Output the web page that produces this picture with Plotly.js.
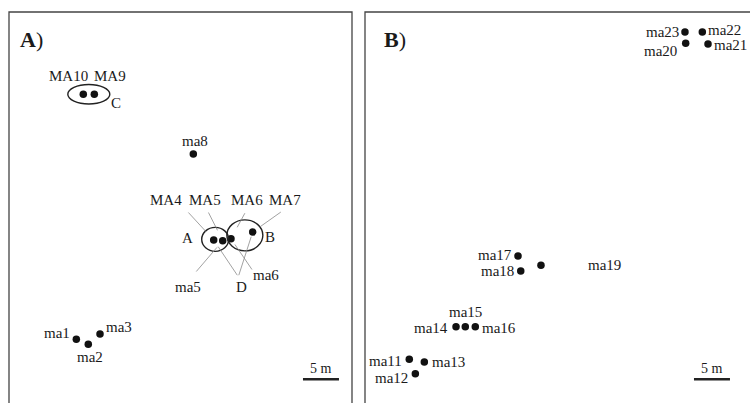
<!DOCTYPE html>
<html><head><meta charset="utf-8">
<script src="https://cdn.plot.ly/plotly-3.0.1.min.js"></script>
<style>html,body{margin:0;padding:0;background:#fff}#chart{width:750px;height:403px}</style>
</head><body><div id="chart"></div>
<script>
// ---- data (metres, origin at lower-left of each panel) ----
const namesA = ['ma1','ma2','ma3','MA4','MA5','MA6','MA7','ma8','MA9','MA10'];
const xA = [9.35, 11.01, 12.64, 28.43, 29.68, 30.83, 33.85, 25.60, 11.85, 10.32];
const yA = [8.85, 8.15, 9.58, 22.64, 22.54, 22.82, 23.75, 34.58, 42.88, 42.88];
const namesB = ['ma11','ma12','ma13','ma14','ma15','ma16','ma17','ma18','ma19','ma20','ma21','ma22','ma23'];
const xB = [6.15, 6.99, 8.24, 12.64, 13.93, 15.32, 21.25, 21.63, 24.44, 44.54, 47.64, 46.85, 44.44];
const yB = [6.07, 4.07, 5.69, 10.60, 10.60, 10.60, 20.42, 18.33, 19.13, 49.96, 49.86, 51.53, 51.53];
const groupNames = ['A','B','C'];
const groupMembers = [['MA4','MA5'],['MA6','MA7'],['MA10','MA9']];
const groupDLinks = ['MA4','MA7'];
const leaderLabels = ['MA4','MA5','MA6','MA7','ma5','ma6'];
const leaderTargets = ['MA4','MA5','MA6','MA7','MA5','MA6'];
const scaleLength = 5;
const scaleUnit = 'm';

// ---- style ----
const PX = 7.2; // pixels per metre
const FONT = "'Liberation Serif', 'Times New Roman', 'DejaVu Serif', serif";
const TXT = '#1a1a1a';
const W = 750, H = 403;
const dirLabelShift = { // [dx right, dy up] in px
  ma1:[-19.6,6], ma2:[1.7,-12.4], ma3:[19.3,6.7], ma8:[1.7,13.3], MA9:[15.4,18.3], MA10:[-15,18.3],
  ma11:[-23.5,-1.4], ma12:[-23.6,-4.6], ma13:[24.4,0], ma14:[-24.7,-1.6], ma15:[0,14.4], ma16:[23.7,-1.6],
  ma17:[-23.3,1], ma18:[-23.2,0], ma19:[63.3,0], ma20:[-24.9,-7.4], ma21:[22.5,-0.5], ma22:[21.7,1.5], ma23:[-22.8,0]
};
const leaderStyle = [ // label shift [dx,dy up], arrow tail ax, ay (screen), standoff
  {lab:[-47.7,40], ax:-26.7, ay:-29, so:11},
  {lab:[-17.7,40.7], ax:-15, ay:-29.7, so:11.6},
  {lab:[15.7,38.7], ax:14.7, ay:-27, so:13},
  {lab:[32,32], ax:29.6, ay:-21, so:9},
  {lab:[-34.7,-46], ax:-27.7, ay:32.3, so:8.7},
  {lab:[34.7,-36.3], ax:22, ay:32.3, so:7}
];
const groupStyle = {
  A:{off:[-3,1], rx:13.5, ry:12, lab:[-30.5,2]},
  B:{off:[3,0], rx:18, ry:15.5, lab:[28.2,-2]},
  C:{off:[0,0], rx:21, ry:9.7, lab:[27.2,-8.7]}
};
const dLinkStyle = [{ax:24.6, ay:36.7, so:8}, {ax:-14.4, ay:44.7, so:5}];
const dLabel = [28, -47.3];
const scalePosA = [40.83, 3.29], scalePosB = [45.69, 3.29];

const ptA = n => [xA[namesA.indexOf(n)], yA[namesA.indexOf(n)]];

const traces = [
  {x:xA, y:yA, xaxis:'x', yaxis:'y', mode:'markers', type:'scatter', text:namesA, hoverinfo:'text',
   marker:{size:7.5, color:'#111', line:{width:0}}},
  {x:xB, y:yB, xaxis:'x2', yaxis:'y', mode:'markers', type:'scatter', text:namesB, hoverinfo:'text',
   marker:{size:7.5, color:'#111', line:{width:0}}}
];

const ann = [];
const shapes = [];
const tfont = {family:FONT, size:15, color:TXT};

function label(xref, x, y, text, s) {
  ann.push({xref, yref:'y', x, y, text, showarrow:false, xanchor:'center', yanchor:'middle',
    xshift:s[0], yshift:s[1], font:tfont});
}
namesA.forEach((n,i)=>{ if (dirLabelShift[n]) label('x', xA[i], yA[i], n, dirLabelShift[n]); });
namesB.forEach((n,i)=>{ if (dirLabelShift[n]) label('x2', xB[i], yB[i], n, dirLabelShift[n]); });

leaderLabels.forEach((lab,i)=>{
  const p = ptA(leaderTargets[i]); const st = leaderStyle[i];
  label('x', p[0], p[1], lab, st.lab);
  ann.push({xref:'x', yref:'y', x:p[0], y:p[1], text:'', showarrow:true, arrowhead:0,
    arrowwidth:0.8, arrowcolor:'#8a8a8a', ax:st.ax, ay:st.ay, standoff:st.so});
});

groupNames.forEach((g,i)=>{
  const pts = groupMembers[i].map(ptA);
  const cx = pts.reduce((a,p)=>a+p[0],0)/pts.length;
  const cy = pts.reduce((a,p)=>a+p[1],0)/pts.length;
  const st = groupStyle[g];
  shapes.push({type:'circle', xref:'x', yref:'y', xsizemode:'pixel', ysizemode:'pixel',
    xanchor:cx, yanchor:cy, x0:st.off[0]-st.rx, x1:st.off[0]+st.rx, y0:st.off[1]-st.ry, y1:st.off[1]+st.ry,
    line:{color:'#222', width:1.4}, fillcolor:'rgba(0,0,0,0)'});
  label('x', cx, cy, g, st.lab);
});

groupDLinks.forEach((n,i)=>{
  const p = ptA(n); const st = dLinkStyle[i];
  ann.push({xref:'x', yref:'y', x:p[0], y:p[1], text:'', showarrow:true, arrowhead:0,
    arrowwidth:0.8, arrowcolor:'#8a8a8a', ax:st.ax, ay:st.ay, standoff:st.so});
});
{ const p = ptA(groupDLinks[0]); label('x', p[0], p[1], 'D', dLabel); }

[['x', scalePosA], ['x2', scalePosB]].forEach(([xr, pos])=>{
  shapes.push({type:'line', xref:xr, yref:'y', x0:pos[0], x1:pos[0]+scaleLength, y0:pos[1], y1:pos[1],
    line:{color:'#222', width:2.4}});
  ann.push({xref:xr, yref:'y', x:pos[0]+scaleLength/2, y:pos[1], text:scaleLength+' '+scaleUnit, showarrow:false,
    xanchor:'center', yanchor:'bottom', yshift:1, font:{family:FONT, size:14, color:TXT}});
});

// panel frames
shapes.push({type:'rect', xref:'paper', yref:'paper', x0:9/W, x1:352/W, y0:-0.2, y1:1-12/H, line:{color:'#444', width:1.3}});
shapes.push({type:'rect', xref:'paper', yref:'paper', x0:365/W, x1:1.2, y0:-0.2, y1:1-12/H, line:{color:'#444', width:1.3}});

// panel letters
ann.push({xref:'paper', yref:'paper', x:18/W, y:1-39/H, xanchor:'left', yanchor:'middle', showarrow:false,
  text:'<b>A</b>)', font:{family:FONT, size:22, color:TXT}});
ann.push({xref:'paper', yref:'paper', x:382/W, y:1-39/H, xanchor:'left', yanchor:'middle', showarrow:false,
  text:'<b>B</b>)', font:{family:FONT, size:22, color:TXT}});

const axCommon = {visible:false, showgrid:false, zeroline:false, fixedrange:true};
const layout = {
  width:W, height:H, margin:{l:0,r:0,t:0,b:0}, showlegend:false,
  paper_bgcolor:'#fff', plot_bgcolor:'rgba(0,0,0,0)',
  xaxis:Object.assign({domain:[9/W, 352/W], range:[0, 343/PX], anchor:'y'}, axCommon),
  xaxis2:Object.assign({domain:[365/W, 1], range:[0, 385/PX], anchor:'y'}, axCommon),
  yaxis:Object.assign({domain:[0, 391/H], range:[0, 391/PX], anchor:'x'}, axCommon),
  annotations:ann, shapes:shapes
};
Plotly.newPlot('chart', traces, layout, {staticPlot:true, displayModeBar:false});
</script></body></html>
